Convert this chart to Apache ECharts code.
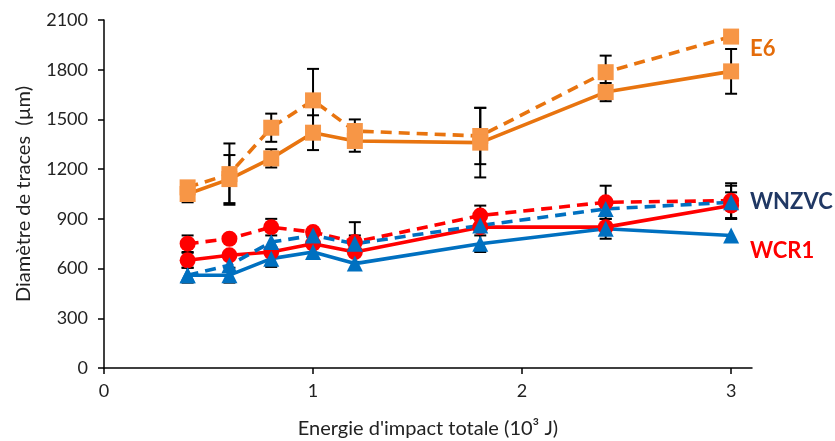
<!DOCTYPE html>
<html><head><meta charset="utf-8">
<script src="https://cdn.jsdelivr.net/npm/echarts@6/dist/echarts.min.js"></script>
<style>html,body{margin:0;padding:0;background:#fff}#c{width:835px;height:441px}</style>
</head><body><div id="c"></div>
<script>
const energies = [0.4, 0.6, 0.8, 1.0, 1.2, 1.8, 2.4, 3.0];
const e6Solid    = [1050, 1140, 1265, 1420, 1370, 1360, 1665, 1790];
const e6SolidErr = [50, 145, 55, 105, 65, 210, 55, 135];
const e6Dash     = [1090, 1170, 1450, 1615, 1430, 1400, 1785, 2000];
const e6DashErr  = [0, 185, 85, 190, 70, 170, 100, 0];
const wcr1Solid    = [650, 680, 700, 750, 700, 850, 850, 980];
const wcr1SolidErr = [45, 0, 0, 0, 0, 0, 0, 80];
const wcr1Dash     = [750, 780, 850, 820, 760, 920, 1000, 1010];
const wcr1DashErr  = [50, 0, 50, 0, 120, 60, 100, 105];
const wnzvcSolid    = [560, 560, 660, 700, 630, 750, 840, 800];
const wnzvcSolidErr = [45, 45, 50, 0, 0, 50, 60, 0];
const wnzvcDash     = [560, 620, 760, 800, 750, 860, 960, 1000];
const wnzvcDashErr  = [0, 0, 0, 0, 50, 0, 0, 100];
const xTicks = [0, 1, 2, 3];
const yTicks = [0, 300, 600, 900, 1200, 1500, 1800, 2100];

const FONT = 'Lato';
const ORANGE_LINE = '#E8740F', ORANGE_FILL = '#F79646';
const RED = '#FF0000', BLUE = '#0070C0';

function pts(vals){ return energies.map((x,i)=>[x, vals[i]]); }
function errData(vals, errs){ return energies.map((x,i)=>[x, vals[i], errs[i]]).filter(d=>d[2]>0); }

function lineSeries(name, vals, color, fill, symbol, size, dashed){
  return {
    name, type:'line', data: pts(vals), z: 3,
    symbol, symbolSize: size, showAllSymbol: true,
    lineStyle:{color, width:3.6, type: dashed ? [11,7] : 'solid', cap:'butt'},
    itemStyle:{color: fill, borderWidth:0},
    emphasis:{disabled:true}, animation:false
  };
}
function errSeries(vals, errs){
  return {
    type:'custom', z: 1, data: errData(vals, errs), animation:false,
    encode:{x:0, y:1},
    renderItem(params, api){
      const x = api.value(0), y = api.value(1), e = api.value(2);
      const top = api.coord([x, y + e]), bot = api.coord([x, y - e]);
      const w = 6;
      const st = {stroke:'#000', lineWidth:2};
      return {type:'group', children:[
        {type:'line', shape:{x1:top[0], y1:top[1], x2:bot[0], y2:bot[1]}, style:st},
        {type:'line', shape:{x1:top[0]-w, y1:top[1], x2:top[0]+w, y2:top[1]}, style:st},
        {type:'line', shape:{x1:bot[0]-w, y1:bot[1], x2:bot[0]+w, y2:bot[1]}, style:st}
      ]};
    }
  };
}

const chart = echarts.init(document.getElementById('c'), null, {renderer:'canvas'});
chart.setOption({
  backgroundColor:'#fff',
  animation:false,
  grid:{left:104, right:83, top:20, bottom:73, containLabel:false, outerBoundsMode:'none'},
  xAxis:{
    type:'value', min:0, max:3.1, interval:1,
    name:"Energie d'impact totale (10\u00B3 J)", nameLocation:'middle', nameGap:51,
    nameTextStyle:{fontFamily:FONT, fontSize:20, color:'#222'},
    axisLine:{lineStyle:{color:'#000', width:1.5}},
    axisTick:{show:true, length:6, lineStyle:{color:'#000', width:1.5}, customValues: xTicks},
    axisLabel:{fontFamily:FONT, fontSize:18, color:'#222', margin:14, customValues: xTicks,
      formatter: v => String(v)},
    splitLine:{show:false}
  },
  yAxis:{
    type:'value', min:0, max:2100, interval:300,
    name:'Diamètre de traces  (µm)', nameLocation:'middle', nameGap:70,
    nameTextStyle:{fontFamily:FONT, fontSize:20, color:'#222'},
    axisLine:{show:true, lineStyle:{color:'#000', width:1.5}},
    axisTick:{show:true, length:6, lineStyle:{color:'#000', width:1.5}, customValues: yTicks},
    axisLabel:{fontFamily:FONT, fontSize:18, color:'#222', margin:16, customValues: yTicks,
      formatter: v => String(v)},
    splitLine:{show:false}
  },
  graphic:[
    {type:'text', left:750, top:38, style:{text:'E6', fontFamily:FONT, fontWeight:'bold', fontSize:22, fill:'#E46C0A'}},
    {type:'text', left:750, top:191, style:{text:'WNZVC', fontFamily:FONT, fontWeight:'bold', fontSize:22, fill:'#203864'}},
    {type:'text', left:750, top:240, style:{text:'WCR1', fontFamily:FONT, fontWeight:'bold', fontSize:22, fill:RED}}
  ],
  series:[
    errSeries(e6Dash, e6DashErr), errSeries(e6Solid, e6SolidErr),
    errSeries(wcr1Dash, wcr1DashErr), errSeries(wcr1Solid, wcr1SolidErr),
    errSeries(wnzvcDash, wnzvcDashErr), errSeries(wnzvcSolid, wnzvcSolidErr),
    lineSeries('E6 dash', e6Dash, ORANGE_LINE, ORANGE_FILL, 'rect', 16, true),
    lineSeries('E6', e6Solid, ORANGE_LINE, ORANGE_FILL, 'rect', 16, false),
    lineSeries('WCR1 dash', wcr1Dash, RED, RED, 'circle', 16, true),
    lineSeries('WCR1', wcr1Solid, RED, RED, 'circle', 16, false),
    lineSeries('WNZVC dash', wnzvcDash, BLUE, BLUE, 'triangle', 16, true),
    lineSeries('WNZVC', wnzvcSolid, BLUE, BLUE, 'triangle', 16, false)
  ]
});
</script></body></html>
